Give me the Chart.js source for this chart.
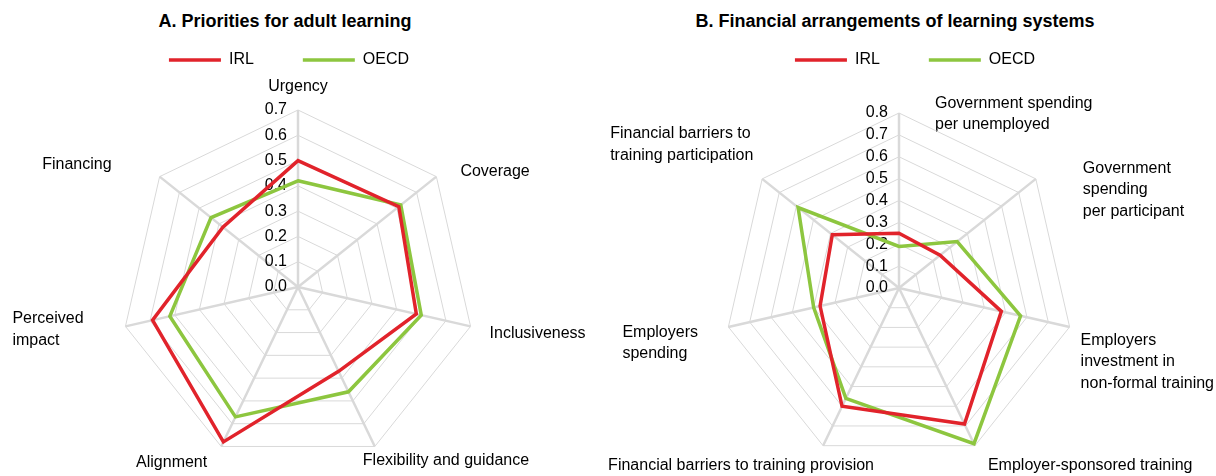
<!DOCTYPE html>
<html>
<head>
<meta charset="utf-8">
<script src="https://cdn.jsdelivr.net/npm/chart.js@4.4.1/dist/chart.umd.min.js"></script>
<style>
  body { margin: 0; background: #fff; font-family: 'Liberation Sans', Arial, sans-serif; }
  #wrap { position: relative; width: 1216px; height: 476px; overflow: hidden; }
  .title { position: absolute; top: 10px; font-weight: bold; font-size: 18px; line-height: 22px; text-align: center; color: #000; }
  .panel { position: absolute; top: 0; height: 476px; }
</style>
</head>
<body>
<div id="wrap">
  <div class="title" style="left:0;width:570px">A. Priorities for adult learning</div>
  <div class="title" style="left:600px;width:590px">B. Financial arrangements of learning systems</div>
  <div class="panel" style="left:0;width:600px"><canvas id="chart-a"></canvas></div>
  <div class="panel" style="left:570px;width:646px"><canvas id="chart-b"></canvas></div>
</div>
<script>
const labelsA = ['Urgency', 'Coverage', 'Inclusiveness', 'Flexibility and guidance', 'Alignment', ['Perceived', 'impact'], 'Financing']
const irlA = [0.50, 0.51, 0.48, 0.37, 0.68, 0.59, 0.38]
const oecdA = [0.42, 0.52, 0.50, 0.46, 0.57, 0.52, 0.44]
const maxA = 0.7

const labelsB = [
  ['Government spending', 'per unemployed'],
  ['Government', 'spending', 'per participant'],
  ['Employers', 'investment in', 'non-formal training'],
  'Employer-sponsored training',
  'Financial barriers to training provision',
  ['Employers', 'spending'],
  ['Financial barriers to', 'training participation']
]
const irlB = [0.25, 0.24, 0.48, 0.69, 0.60, 0.37, 0.39]
const oecdB = [0.19, 0.34, 0.57, 0.79, 0.56, 0.40, 0.59]
const maxB = 0.8

const RED = '#e1232b'
const GREEN = '#8dc63f'
const GRID = '#d9d9d9'
const FONT = "'Liberation Sans', Arial, sans-serif"
const FONT_SIZE = 16
const LINE_HEIGHT = 1.35

Chart.defaults.font.family = FONT
Chart.defaults.color = '#000'

// where each web sits in its canvas, and how the category labels hang off the spoke ends
const webA = {
  cx: 298, cy: 287, r: 177,
  labels: [
    { dx: 0, dy: -23, align: 'center' },
    { dx: 24, dy: -5, align: 'left' },
    { dx: 19, dy: 7, align: 'left' },
    { dx: -12, dy: 14, align: 'left' },
    { dx: -14, dy: 16, align: 'right' },
    { dx: -113, dy: 3, align: 'left' },
    { dx: -48, dy: -12, align: 'right' }
  ]
}
const webB = {
  cx: 329, cy: 288, r: 175,
  labels: [
    { dx: 36, dy: 1, align: 'left' },
    { dx: 47, dy: 11, align: 'left' },
    { dx: 11, dy: 35, align: 'left' },
    { dx: 13, dy: 20, align: 'left' },
    { dx: -82, dy: 20, align: 'center' },
    { dx: -106, dy: 16, align: 'left' },
    { dx: -152, dy: -34, align: 'left' }
  ]
}

function placeWeb (web) {
  return function (scale) {
    scale.xCenter = web.cx
    scale.yCenter = web.cy
    scale.drawingArea = web.r
    const ctx = scale.ctx
    const lh = FONT_SIZE * LINE_HEIGHT
    ctx.save()
    ctx.font = FONT_SIZE + 'px ' + FONT
    scale._pointLabelItems = scale._pointLabels.map((label, i) => {
      const lines = Array.isArray(label) ? label : [label]
      const w = Math.max(...lines.map(l => ctx.measureText(l).width))
      const h = lines.length * lh
      const spec = web.labels[i]
      const p = scale.getPointPosition(i, web.r)
      const x = p.x + spec.dx
      const top = p.y + spec.dy - h / 2
      const left = spec.align === 'left' ? x : spec.align === 'right' ? x - w : x - w / 2
      return { visible: true, x, y: top, textAlign: spec.align, left, top, right: left + w, bottom: top + h }
    })
    ctx.restore()
  }
}

// value axis labels sit just left of the top spoke, under the lines
const tickLabels = {
  id: 'tickLabels',
  beforeDatasetsDraw (chart) {
    const scale = chart.scales.r
    const ctx = chart.ctx
    ctx.save()
    ctx.font = FONT_SIZE + 'px ' + FONT
    ctx.fillStyle = '#000'
    ctx.textAlign = 'right'
    ctx.textBaseline = 'middle'
    scale.ticks.forEach(t => {
      const d = scale.getDistanceFromCenterForValue(t.value)
      ctx.fillText(t.value.toFixed(1), scale.xCenter - 11, scale.yCenter - d)
    })
    ctx.restore()
  }
}

function makeRadar (id, labels, irl, oecd, max, web, padding) {
  const line = { borderWidth: 3.5, pointRadius: 0, pointHoverRadius: 0, fill: false, tension: 0, clip: false }
  return new Chart(document.getElementById(id), {
    type: 'radar',
    data: {
      labels,
      datasets: [
        { label: 'IRL', data: irl, borderColor: RED, backgroundColor: RED, ...line },
        { label: 'OECD', data: oecd, borderColor: GREEN, backgroundColor: GREEN, ...line }
      ]
    },
    options: {
      responsive: true,
      maintainAspectRatio: false,
      animation: false,
      layout: { padding },
      plugins: {
        legend: {
          position: 'top',
          labels: {
            usePointStyle: true,
            pointStyle: 'line',
            pointStyleWidth: 52,
            padding: 49,
            color: '#000',
            font: { size: FONT_SIZE }
          }
        },
        tooltip: { enabled: false }
      },
      scales: {
        r: {
          min: 0,
          max,
          ticks: { display: false, stepSize: 0.1 },
          grid: { color: GRID, lineWidth: 1 },
          angleLines: { color: GRID, lineWidth: 2.5 },
          pointLabels: { color: '#000', font: { size: FONT_SIZE, lineHeight: LINE_HEIGHT }, padding: 0 },
          afterFit: placeWeb(web)
        }
      }
    },
    plugins: [tickLabels]
  })
}

makeRadar('chart-a', labelsA, irlA, oecdA, maxA, webA, { top: 3, right: 22 })
makeRadar('chart-b', labelsB, irlB, oecdB, maxB, webB, { top: 3, left: 44 })
</script>
</body>
</html>
